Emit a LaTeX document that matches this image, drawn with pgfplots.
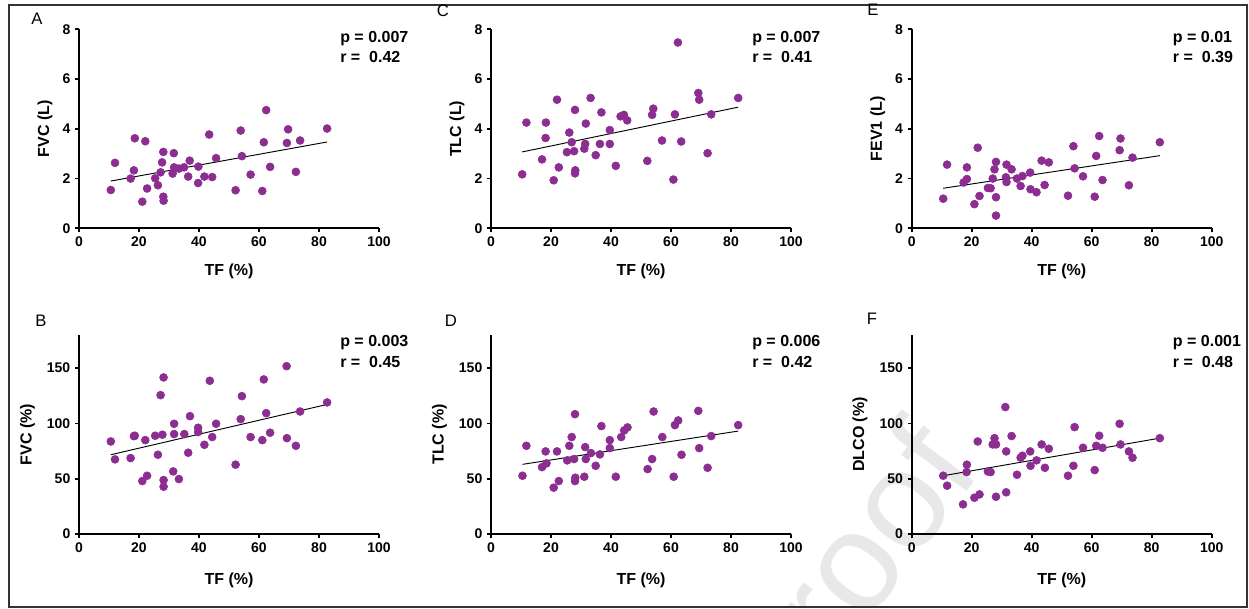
\documentclass[border=0pt]{standalone}
\usepackage{fontspec}
\setmainfont{Liberation Sans}
\usepackage{pgfplots}
\pgfplotsset{compat=1.18}

\definecolor{dotc}{RGB}{140,45,145}
\definecolor{framec}{RGB}{51,51,51}
\def\u{0.75pt}
\newcommand{\labfont}{\bfseries\fontsize{12}{14}\selectfont}

\pgfplotsset{
  panel/.style={
    scale only axis, width=225pt, height=149.25pt,
    axis lines=left, axis line style={-, line width=1.4pt},
    xmin=0, xmax=100, xtick={0,20,...,100},
    tick align=outside, major tick length=3pt,
    tick style={line width=1.4pt, black},
    /pgf/number format/assume math mode=true,
    tick label style={font=\bfseries\fontsize{10.5}{12}\selectfont},
    xlabel={TF (\%)},
    clip=false,
    anchor=south west,
  },
  toprow/.style={
    ymin=0, ymax=8, ytick={0,2,4,6,8},
    every axis y label/.style={at={(axis description cs:-0.113,0.5)}, rotate=90, anchor=center, font=\labfont},
    every axis x label/.style={at={(axis description cs:0.5,-0.216)}, anchor=center, font=\labfont},
  },
  botrow/.style={
    ymin=0, ymax=180, ytick={0,50,100,150},
    every axis y label/.style={at={(axis description cs:-0.172,0.5)}, rotate=90, anchor=center, font=\labfont},
    every axis x label/.style={at={(axis description cs:0.5,-0.232)}, anchor=center, font=\labfont},
  },
  dots/.style={only marks, mark=*, mark size=3pt, color=dotc, mark options={fill=dotc, draw=dotc}},
  fit/.style={black, line width=0.7pt},
}
\newcommand{\stats}[4]{%
  \node[anchor=west, inner sep=0pt, font=\labfont] at (axis cs:87,#1) {p = #3};
  \node[anchor=west, inner sep=0pt, font=\labfont] at (axis cs:87,#2) {r = \ #4};
}

\begin{document}
\begin{tikzpicture}
\useasboundingbox (0,0) rectangle (1249*\u, -609*\u);

% watermark
\begin{scope}
  \clip (9*\u, -5*\u) rectangle (1247*\u, -607*\u);
  \node[anchor=base east, rotate=53, text=black!9, font=\fontsize{105}{110}\selectfont, inner sep=0pt]
    at (983*\u, -470*\u) {Journal Pre-proof};
\end{scope}

\draw[framec, line width=1pt] (9*\u, -5*\u) rectangle (1247*\u, -607*\u);

% panel letters
\begin{scope}[font=\fontsize{12.5}{14}\selectfont]
  \node at (37*\u, -19*\u) {A};
  \node at (443*\u, -11*\u) {C};
  \node at (873*\u, -10*\u) {E};
  \node at (41*\u, -321*\u) {B};
  \node at (451*\u, -321*\u) {D};
  \node at (872*\u, -319*\u) {F};
\end{scope}

% A
\begin{axis}[panel, toprow, at={(79*\u, -228.3*\u)}, ylabel={FVC (L)}]
\addplot[dots] coordinates {
(10.6,1.54)(12.0,2.63)(17.2,2.00)(18.3,2.33)(18.6,3.62)(21.1,1.07)(22.1,3.50)
(22.7,1.60)(25.4,2.01)(26.3,1.73)(27.2,2.25)(27.7,2.65)(28.1,3.07)(28.1,1.27)
(28.2,1.11)(31.2,2.20)(31.6,3.02)(31.7,2.45)(33.3,2.40)(35.0,2.45)(36.4,2.08)
(36.9,2.72)(39.7,1.82)(39.8,2.48)(41.8,2.08)(43.4,3.77)(44.4,2.06)(45.7,2.82)
(52.2,1.53)(53.9,3.93)(54.3,2.90)(57.2,2.16)(61.1,1.50)(61.6,3.46)(62.4,4.75)
(63.7,2.47)(69.3,3.43)(69.7,3.98)(72.3,2.27)(73.7,3.53)(82.7,4.01)
};
\addplot[fit] coordinates {(10.6,1.90) (82.7,3.47)};
\stats{7.62}{6.88}{0.007}{0.42}
\end{axis}

% C
\begin{axis}[panel, toprow, at={(491*\u, -228.3*\u)}, ylabel={TLC (L)}]
\addplot[dots] coordinates {
(10.4,2.17)(11.8,4.25)(17.0,2.77)(18.2,3.63)(18.3,4.25)(20.9,1.93)(22.0,5.17)
(22.6,2.45)(25.3,3.06)(26.1,3.85)(26.9,3.46)(27.7,3.10)(28.0,4.76)(28.1,2.33)
(28.0,2.21)(31.1,3.20)(31.4,3.39)(31.6,4.21)(33.2,5.24)(34.9,2.94)(36.3,3.39)
(36.8,4.66)(39.6,3.39)(39.6,3.95)(41.6,2.51)(43.2,4.50)(44.3,4.56)(45.4,4.34)
(52.1,2.71)(53.7,4.56)(54.1,4.81)(57.0,3.53)(60.8,1.96)(61.3,4.58)(62.3,7.47)
(63.4,3.49)(69.1,5.44)(69.4,5.17)(72.2,3.02)(73.4,4.58)(82.4,5.24)
};
\addplot[fit] coordinates {(10.4,3.07) (82.4,4.87)};
\stats{7.62}{6.88}{0.007}{0.41}
\end{axis}

% E
\begin{axis}[panel, toprow, at={(911.7*\u, -228.3*\u)}, ylabel={FEV1 (L)}]
\addplot[dots] coordinates {
(10.5,1.19)(11.8,2.56)(17.3,1.84)(18.4,1.98)(18.4,2.45)(20.9,0.97)(22.0,3.24)
(22.6,1.30)(25.4,1.62)(26.3,1.61)(27.0,2.00)(27.6,2.37)(28.1,2.67)(28.1,1.25)
(28.1,0.51)(31.4,2.05)(31.6,2.56)(31.6,1.86)(33.3,2.37)(35.1,2.00)(36.3,1.70)
(36.9,2.10)(39.5,2.24)(39.6,1.57)(41.6,1.45)(43.3,2.72)(44.3,1.74)(45.7,2.65)
(52.1,1.31)(53.9,3.30)(54.3,2.41)(57.1,2.09)(61.0,1.27)(61.5,2.91)(62.5,3.71)
(63.6,1.94)(69.3,3.14)(69.6,3.61)(72.4,1.73)(73.6,2.84)(82.7,3.46)
};
\addplot[fit] coordinates {(10.5,1.61) (82.7,2.92)};
\stats{7.62}{6.88}{0.01}{0.39}
\end{axis}

% B
\begin{axis}[panel, botrow, at={(79*\u, -534*\u)}, ylabel={FVC (\%)}]
\addplot[dots] coordinates {
(10.6,83.7)(12.0,67.5)(17.2,68.7)(18.3,88.5)(18.6,88.9)(21.1,47.9)(22.1,84.9)
(22.7,52.7)(25.4,88.9)(26.3,71.7)(27.2,125.6)(27.8,89.8)(28.2,141.6)(28.2,48.8)
(28.2,42.8)(31.4,56.6)(31.7,99.7)(31.7,90.4)(33.3,49.7)(35.1,90.4)(36.4,73.5)
(37.0,106.6)(39.7,96.1)(39.7,92.2)(41.8,80.7)(43.6,138.6)(44.4,87.7)(45.7,99.7)
(52.2,62.7)(53.9,103.9)(54.3,124.7)(57.2,87.7)(61.1,84.9)(61.6,139.8)(62.4,109.3)
(63.7,91.6)(69.3,86.7)(69.2,151.8)(72.3,79.8)(73.7,110.8)(82.7,119.0)
};
\addplot[fit] coordinates {(10.6,71.7) (82.7,117.2)};
\stats{173.4}{155.5}{0.003}{0.45}
\end{axis}

% D
\begin{axis}[panel, botrow, at={(491*\u, -534*\u)}, ylabel={TLC (\%)}]
\addplot[dots] coordinates {
(10.5,52.7)(11.8,79.8)(17.0,60.5)(18.5,63.9)(18.2,74.7)(20.9,41.9)(22.0,74.7)
(22.6,47.9)(25.4,66.6)(26.1,79.8)(26.9,87.7)(27.7,67.8)(28.0,108.4)(28.1,50.9)
(28.0,47.9)(31.1,51.8)(31.4,78.6)(31.6,67.8)(33.3,73.2)(34.9,61.7)(36.3,72.0)
(36.8,97.6)(39.6,77.7)(39.6,84.9)(41.6,51.8)(43.4,87.7)(44.4,93.7)(45.5,96.4)
(52.2,58.7)(53.7,67.8)(54.2,110.8)(57.1,87.7)(60.9,51.8)(61.3,98.5)(62.4,102.7)
(63.5,71.7)(69.1,111.4)(69.4,77.7)(72.2,59.9)(73.4,88.6)(82.4,98.5)
};
\addplot[fit] coordinates {(10.5,63.0) (82.4,93.1)};
\stats{173.4}{155.5}{0.006}{0.42}
\end{axis}

% F
\begin{axis}[panel, botrow, at={(911.7*\u, -534*\u)}, ylabel={DLCO (\%)}]
\addplot[dots] coordinates {
(10.5,52.7)(11.8,43.7)(17.1,26.8)(18.3,56.0)(18.4,62.7)(20.9,32.8)(22.0,83.7)
(22.6,35.8)(25.4,56.6)(26.3,56.0)(27.0,81.0)(27.6,86.7)(28.1,81.0)(28.1,33.7)
(31.2,114.8)(31.5,74.7)(31.5,37.7)(33.3,88.6)(35.1,53.6)(36.3,69.0)(36.9,70.8)
(39.5,74.7)(39.6,61.7)(41.6,66.6)(43.3,81.0)(44.4,59.9)(45.7,77.1)(52.1,52.7)
(53.9,61.7)(54.3,96.7)(57.1,78.0)(61.0,57.8)(61.5,79.8)(62.5,88.9)(63.6,78.0)
(69.3,99.7)(69.6,81.0)(72.4,74.7)(73.6,69.0)(82.7,86.7)
};
\addplot[fit] coordinates {(10.5,52.7) (82.7,86.7)};
\stats{173.4}{155.5}{0.001}{0.48}
\end{axis}

\end{tikzpicture}
\end{document}
